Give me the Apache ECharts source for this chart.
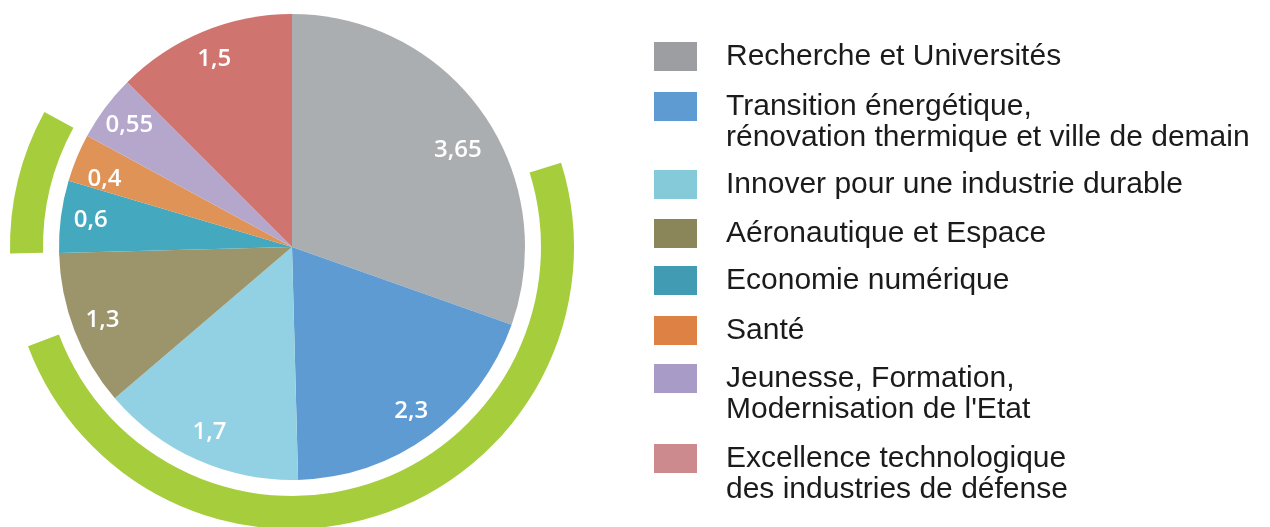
<!DOCTYPE html>
<html>

<head>
    <meta charset="utf-8">
    <script src="https://cdn.jsdelivr.net/npm/echarts@6/dist/echarts.min.js"></script>
    <style>
        html, body { margin: 0; padding: 0; background: #fff; }
        #main { width: 1270px; height: 527px; }
    </style>
</head>

<body>
    <div id="main"></div>
</body>
<script>
    // data
    var names = [
        'Recherche et Universités',
        'Transition énergétique, rénovation thermique et ville de demain',
        'Innover pour une industrie durable',
        'Aéronautique et Espace',
        'Economie numérique',
        'Santé',
        'Jeunesse, Formation, Modernisation de l\'Etat',
        'Excellence technologique des industries de défense'
    ];
    var legendLabels = [
        'Recherche et Universités',
        'Transition énergétique,\nrénovation thermique et ville de demain',
        'Innover pour une industrie durable',
        'Aéronautique et Espace',
        'Economie numérique',
        'Santé',
        'Jeunesse, Formation,\nModernisation de l\'Etat',
        'Excellence technologique\ndes industries de défense'
    ];
    var values = [3.65, 2.3, 1.7, 1.3, 0.6, 0.4, 0.55, 1.5];
    var sliceColors = ['#abaeb1', '#5f9bd3', '#91d1e3', '#9c956c', '#44a9be', '#df9357', '#b4a7cb', '#cf746f'];
    var legendColors = ['#9c9ea1', '#5f9bd3', '#84cad9', '#8b865a', '#409bb3', '#dd8145', '#a99bc7', '#cd8a8e'];

    // green bracket arcs, in degrees, clockwise from 17.4deg
    var arcSpans = [176.8, 19.3, 29.9, 134];
    var arcShown = [true, false, true, false];

    // legend swatch tops
    var swatchTops = [42, 92, 170, 219, 266, 316, 364, 444];

    var labelNudge = { 0: [0, 20], 5: [0, 10] };

    var myChart = echarts.init(document.getElementById('main'), null, { renderer: 'canvas' });

    var center = [292, 247];

    var pieData = names.map(function (n, i) {
        return { name: n, value: values[i], itemStyle: { color: sliceColors[i] } };
    });

    var labelData = names.map(function (n, i) {
        var d = { name: n, value: values[i] };
        if (labelNudge[i]) d.label = { offset: labelNudge[i] };
        return d;
    });

    var arcData = arcSpans.map(function (v, i) {
        return {
            name: 'arc' + i,
            value: v,
            itemStyle: { color: arcShown[i] ? '#a6cd3c' : 'rgba(0,0,0,0)' }
        };
    });

    // two-line labels get an empty first line so the swatch sits on the first text line
    var legends = names.map(function (n, i) {
        var twoLine = legendLabels[i].indexOf('\n') >= 0;
        var txt = twoLine ? '\n' + legendLabels[i] : legendLabels[i];
        return {
            data: [{ name: n, itemStyle: { color: legendColors[i] } }],
            orient: 'vertical',
            left: 654,
            top: swatchTops[i] - (twoLine ? 32 : 1),
            padding: 0,
            itemWidth: 43,
            itemHeight: 29,
            icon: 'rect',
            selectedMode: false,
            formatter: function () { return txt; },
            textStyle: {
                fontFamily: 'Liberation Sans',
                fontSize: 30,
                lineHeight: 31,
                color: '#1b1b1b',
                padding: [0, 0, 0, 24]
            }
        };
    });

    myChart.setOption({
        backgroundColor: '#ffffff',
        animation: false,
        legend: legends,
        series: [{
            type: 'pie',
            name: 'arcs',
            center: center,
            radius: [249, 282],
            startAngle: 17.4,
            clockwise: true,
            silent: true,
            label: { show: false },
            labelLine: { show: false },
            itemStyle: { borderWidth: 0 },
            emphasis: { disabled: true },
            data: arcData
        }, {
            type: 'pie',
            name: 'budget',
            center: center,
            radius: [0, 233],
            startAngle: 90,
            clockwise: true,
            label: { show: false },
            labelLine: { show: false },
            itemStyle: { borderWidth: 0 },
            emphasis: { disabled: true },
            data: pieData
        }, {
            type: 'pie',
            name: 'labels',
            center: center,
            radius: [167, 233],
            startAngle: 90,
            clockwise: true,
            silent: true,
            itemStyle: { color: 'rgba(0,0,0,0)', borderWidth: 0 },
            emphasis: { disabled: true },
            label: {
                show: true,
                position: 'inside',
                color: '#ffffff',
                fontFamily: 'Open Sans',
                fontWeight: 600,
                fontSize: 24,
                formatter: function (p) { return String(p.value).replace('.', ','); }
            },
            labelLine: { show: false },
            data: labelData
        }]
    });
</script>

</html>
